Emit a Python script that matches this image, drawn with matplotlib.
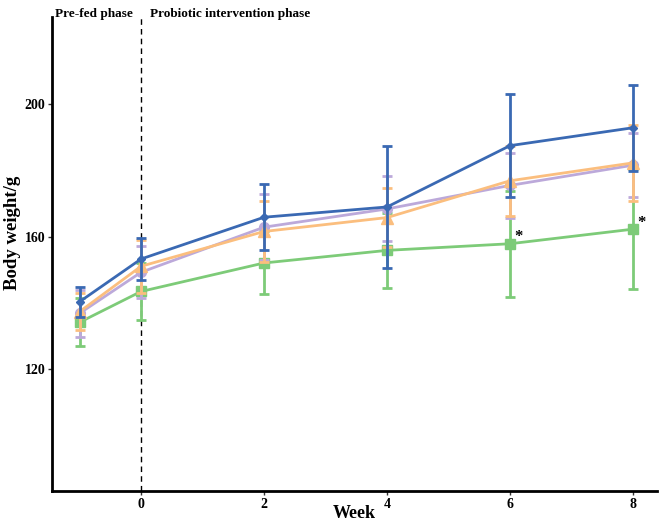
import numpy as np
from matplotlib import pyplot as plt

weeks = [-1, 0, 2, 4, 6, 8]

# group means / SD
blue_mean = [140.4, 153.3, 165.9, 169.0, 187.5, 192.9]
blue_sd = [4.5, 6.4, 10.0, 18.4, 15.6, 13.0]
orange_mean = [137.4, 151.1, 161.6, 165.8, 176.9, 182.3]
orange_sd = [5.5, 8.0, 9.3, 9.0, 10.5, 11.5]
purple_mean = [136.9, 149.3, 162.9, 168.4, 175.5, 181.6]
purple_sd = [7.0, 7.8, 10.0, 9.8, 9.7, 9.7]
green_mean = [134.2, 143.5, 152.1, 155.9, 157.9, 162.3]
green_sd = [7.2, 8.6, 9.5, 11.4, 16.0, 18.0]

star_weeks = [6, 8]
star_vals = [157.9, 162.3]

plt.rcParams["font.family"] = ["Liberation Serif", "DejaVu Serif"]
plt.rcParams["font.weight"] = "bold"

fig = plt.figure(figsize=(6.61, 5.22), dpi=100)
ax = fig.add_axes([0.079, 0.0594, 0.915, 0.9086])

series = [
    (green_mean, green_sd, "#7DCB78", "s", 7),
    (purple_mean, purple_sd, "#BCA9DA", "o", 7),
    (orange_mean, orange_sd, "#FBBE7E", "^", 8),
    (blue_mean, blue_sd, "#3A69B3", "D", 4.5),
]
for z, (m, sd, c, mk, ms) in enumerate(series):
    ax.errorbar(weeks, m, yerr=sd, color=c, marker=mk, markersize=ms, lw=2,
                elinewidth=2, capsize=3.5, capthick=2, zorder=3 + z)

for w, v in zip(star_weeks, star_vals):
    ax.text(w + 0.07, v + 2.0, "*", fontsize=12, fontweight="bold", ha="left", va="center")

ax.axvline(0, color="black", ls=(0, (4, 3)), lw=1, zorder=2)

ax.set_xlim(-1.445, 8.39)
ax.set_ylim(83.3, 226.4)
ax.set_xticks([0, 2, 4, 6, 8])
ax.set_yticks([120, 160, 200])
ax.tick_params(labelsize=10, width=1, length=3, color="#333333", pad=2)
for lbl in ax.get_xticklabels() + ax.get_yticklabels():
    lbl.set_fontweight("bold")

for s in ["top", "right"]:
    ax.spines[s].set_visible(False)
for s in ["left", "bottom"]:
    ax.spines[s].set_linewidth(2)

ax.set_xlabel("Week", fontsize=13, fontweight="bold", va="center")
ax.xaxis.set_label_coords(0.5, -0.047)
ax.set_ylabel("Body weight/g", fontsize=13.5, fontweight="bold", va="center")
ax.yaxis.set_label_coords(-0.066, 0.545)

fig.text(0.083, 0.985, "Pre-fed phase", fontsize=9.5, fontweight="bold", va="top")
fig.text(0.227, 0.985, "Probiotic intervention phase", fontsize=9.5, fontweight="bold", va="top")

fig.savefig("out.png", dpi=100)
